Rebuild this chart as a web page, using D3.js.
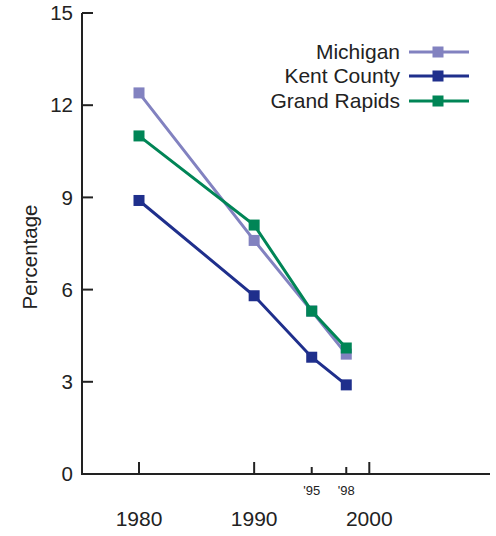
<!DOCTYPE html>
<html><head><meta charset="utf-8">
<script src="https://cdn.jsdelivr.net/npm/d3@7"></script>
<style>body{margin:0;background:#fff}svg{display:block}text{font-family:"Liberation Sans",Arial,sans-serif;fill:#222}</style>
</head><body>
<script>
const years = [1980, 1990, 1995, 1998];
const seriesNames = ["Michigan", "Kent County", "Grand Rapids"];
const michigan = [12.4, 7.6, 5.3, 3.9];
const kentCounty = [8.9, 5.8, 3.8, 2.9];
const grandRapids = [11.0, 8.1, 5.3, 4.1];
const yTicks = [0, 3, 6, 9, 12, 15];
const majorX = [1980, 1990, 2000];
const minorX = [1995, 1998];
const minorLabels = ["'95", "'98"];
const colors = ["#8282c0", "#1f2f8c", "#008556"];

const W = 496, H = 536;
const svg = d3.select("body").append("svg").attr("width", W).attr("height", H);
const x = d3.scaleLinear().domain([1980, 2000]).range([139, 369.3]);
const y = d3.scaleLinear().domain([0, 15]).range([474, 13]);
const axisX0 = 82, axisX1 = 490;

// y axis
svg.append("line").attr("x1", axisX0).attr("x2", axisX0).attr("y1", y(15)).attr("y2", y(0)+1)
  .attr("stroke", "#222").attr("stroke-width", 2);
yTicks.forEach(t => {
  svg.append("line").attr("x1", axisX0).attr("x2", axisX0+11).attr("y1", y(t)).attr("y2", y(t))
    .attr("stroke", "#222").attr("stroke-width", 2);
  svg.append("text").attr("x", 73).attr("y", y(t)).attr("dy", "0.35em").attr("text-anchor", "end")
    .attr("font-size", 20.5).text(t);
});
// x axis
svg.append("line").attr("x1", axisX0-1).attr("x2", axisX1).attr("y1", y(0)).attr("y2", y(0))
  .attr("stroke", "#222").attr("stroke-width", 2);
majorX.forEach(t => {
  svg.append("line").attr("x1", x(t)).attr("x2", x(t)).attr("y1", y(0)).attr("y2", y(0)-12)
    .attr("stroke", "#222").attr("stroke-width", 2);
  svg.append("text").attr("x", x(t)).attr("y", 519).attr("dy", "0.35em").attr("text-anchor", "middle")
    .attr("font-size", 21).text(t);
});
minorX.forEach((t, i) => {
  svg.append("line").attr("x1", x(t)).attr("x2", x(t)).attr("y1", y(0)).attr("y2", y(0)-7)
    .attr("stroke", "#222").attr("stroke-width", 2);
  svg.append("text").attr("x", x(t)).attr("y", 490).attr("dy", "0.35em").attr("text-anchor", "middle")
    .attr("font-size", 13).text(minorLabels[i]);
});
svg.append("text").attr("transform", "translate(30,257) rotate(-90)").attr("text-anchor", "middle")
  .attr("dy", "0.35em").attr("font-size", 20.5).text("Percentage");

const data = [michigan, kentCounty, grandRapids];
const line = d3.line().x((d, i) => x(years[i])).y(d => y(d));
data.forEach((vals, s) => {
  const g = svg.append("g");
  g.append("path").attr("d", line(vals)).attr("fill", "none").attr("stroke", colors[s]).attr("stroke-width", 3);
  g.selectAll("rect").data(vals).enter().append("rect")
    .attr("x", (d, i) => x(years[i]) - 5.5).attr("y", d => y(d) - 5.5)
    .attr("width", 11).attr("height", 11).attr("fill", colors[s]);
});

// legend
const legY = [52, 76, 101];
seriesNames.forEach((n, i) => {
  svg.append("text").attr("x", 400).attr("y", legY[i]).attr("dy", "0.35em").attr("text-anchor", "end")
    .attr("font-size", 21).text(n);
  svg.append("line").attr("x1", 409).attr("x2", 469).attr("y1", legY[i]).attr("y2", legY[i])
    .attr("stroke", colors[i]).attr("stroke-width", 3);
  svg.append("rect").attr("x", 438-5.5).attr("y", legY[i]-5.5).attr("width", 11).attr("height", 11)
    .attr("fill", colors[i]);
});
</script>
</body></html>
